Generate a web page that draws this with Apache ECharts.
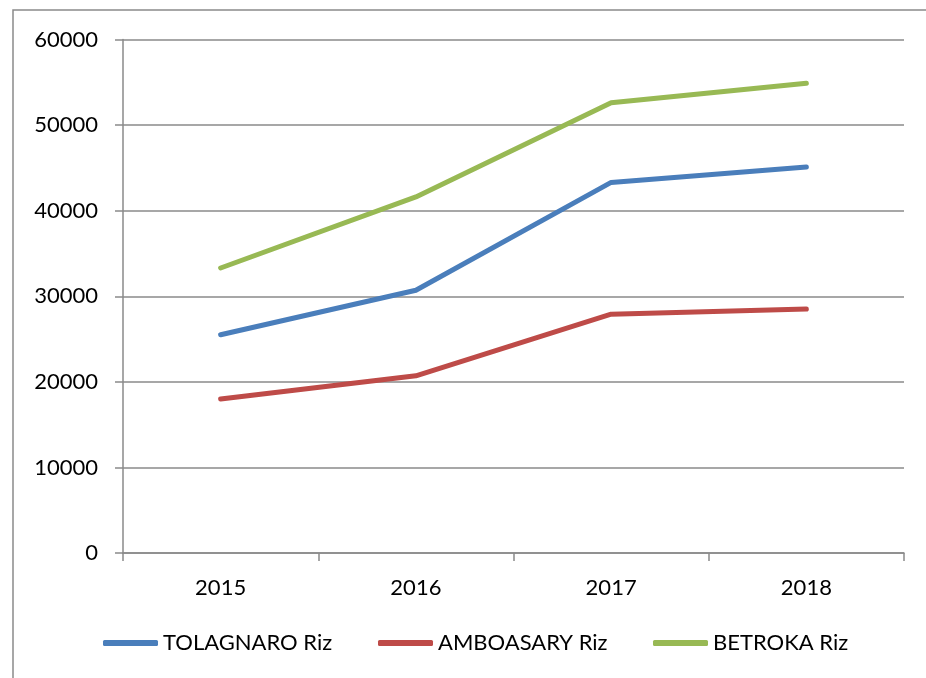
<!DOCTYPE html>
<html>
<head>
<meta charset="utf-8">
<script src="https://cdn.jsdelivr.net/npm/echarts@6/dist/echarts.min.js"></script>
<style>html,body{margin:0;padding:0;background:#fff}#c{width:926px;height:678px}</style>
</head>
<body>
<div id="c"></div>
<script>
const categories = ['2015', '2016', '2017', '2018'];
const tolagnaro = [25500, 30700, 43300, 45100];
const amboasary = [18000, 20700, 27900, 28500];
const betroka = [33300, 41600, 52600, 54900];
const seriesNames = ['TOLAGNARO Riz', 'AMBOASARY Riz', 'BETROKA Riz'];
const yTicks = [0, 10000, 20000, 30000, 40000, 50000, 60000];

const FONT = 'Lato';
const gray = '#8a8a8a';
const colors = ['#4a7ebb', '#be4b48', '#98b954'];
const chart = echarts.init(document.getElementById('c'));
const legendLeft = [103, 378, 653];
chart.setOption({
  animation: false,
  textStyle: { fontFamily: FONT },
  graphic: [{ type: 'rect', shape: { x: 13, y: 10, width: 1000, height: 1000 }, style: { fill: 'none', stroke: gray, lineWidth: 1.5 }, silent: true }],
  grid: { left: 123, right: 22, top: 39.5, bottom: 125 },
  legend: seriesNames.map((n, i) => ({
    data: [n], left: legendLeft[i], top: 632, padding: 0, icon: 'roundRect', itemWidth: 55, itemHeight: 6,
    textStyle: { fontFamily: FONT, fontSize: 22, color: '#000' }
  })),
  xAxis: {
    type: 'category', data: categories, boundaryGap: true,
    axisLine: { lineStyle: { color: gray, width: 1.5 } },
    axisTick: { show: true, length: 8, lineStyle: { color: gray, width: 1.5 } },
    axisLabel: { fontFamily: FONT, fontSize: 22, color: '#000', margin: 24 }
  },
  yAxis: {
    type: 'value', min: yTicks[0], max: yTicks[yTicks.length - 1], interval: 10000,
    axisLine: { show: true, lineStyle: { color: gray, width: 1.5 } },
    axisTick: { show: true, length: 8, lineStyle: { color: gray, width: 1.5 } },
    splitLine: { lineStyle: { color: gray, width: 1.5 } },
    axisLabel: { fontFamily: FONT, fontSize: 22, color: '#000', margin: 25, formatter: v => String(v) }
  },
  series: [tolagnaro, amboasary, betroka].map((d, i) => ({
    name: seriesNames[i], type: 'line', data: d, showSymbol: false, symbol: 'none',
    itemStyle: { color: colors[i] },
    lineStyle: { color: colors[i], width: 5, cap: 'round', join: 'round' }
  }))
});
</script>
</body>
</html>
